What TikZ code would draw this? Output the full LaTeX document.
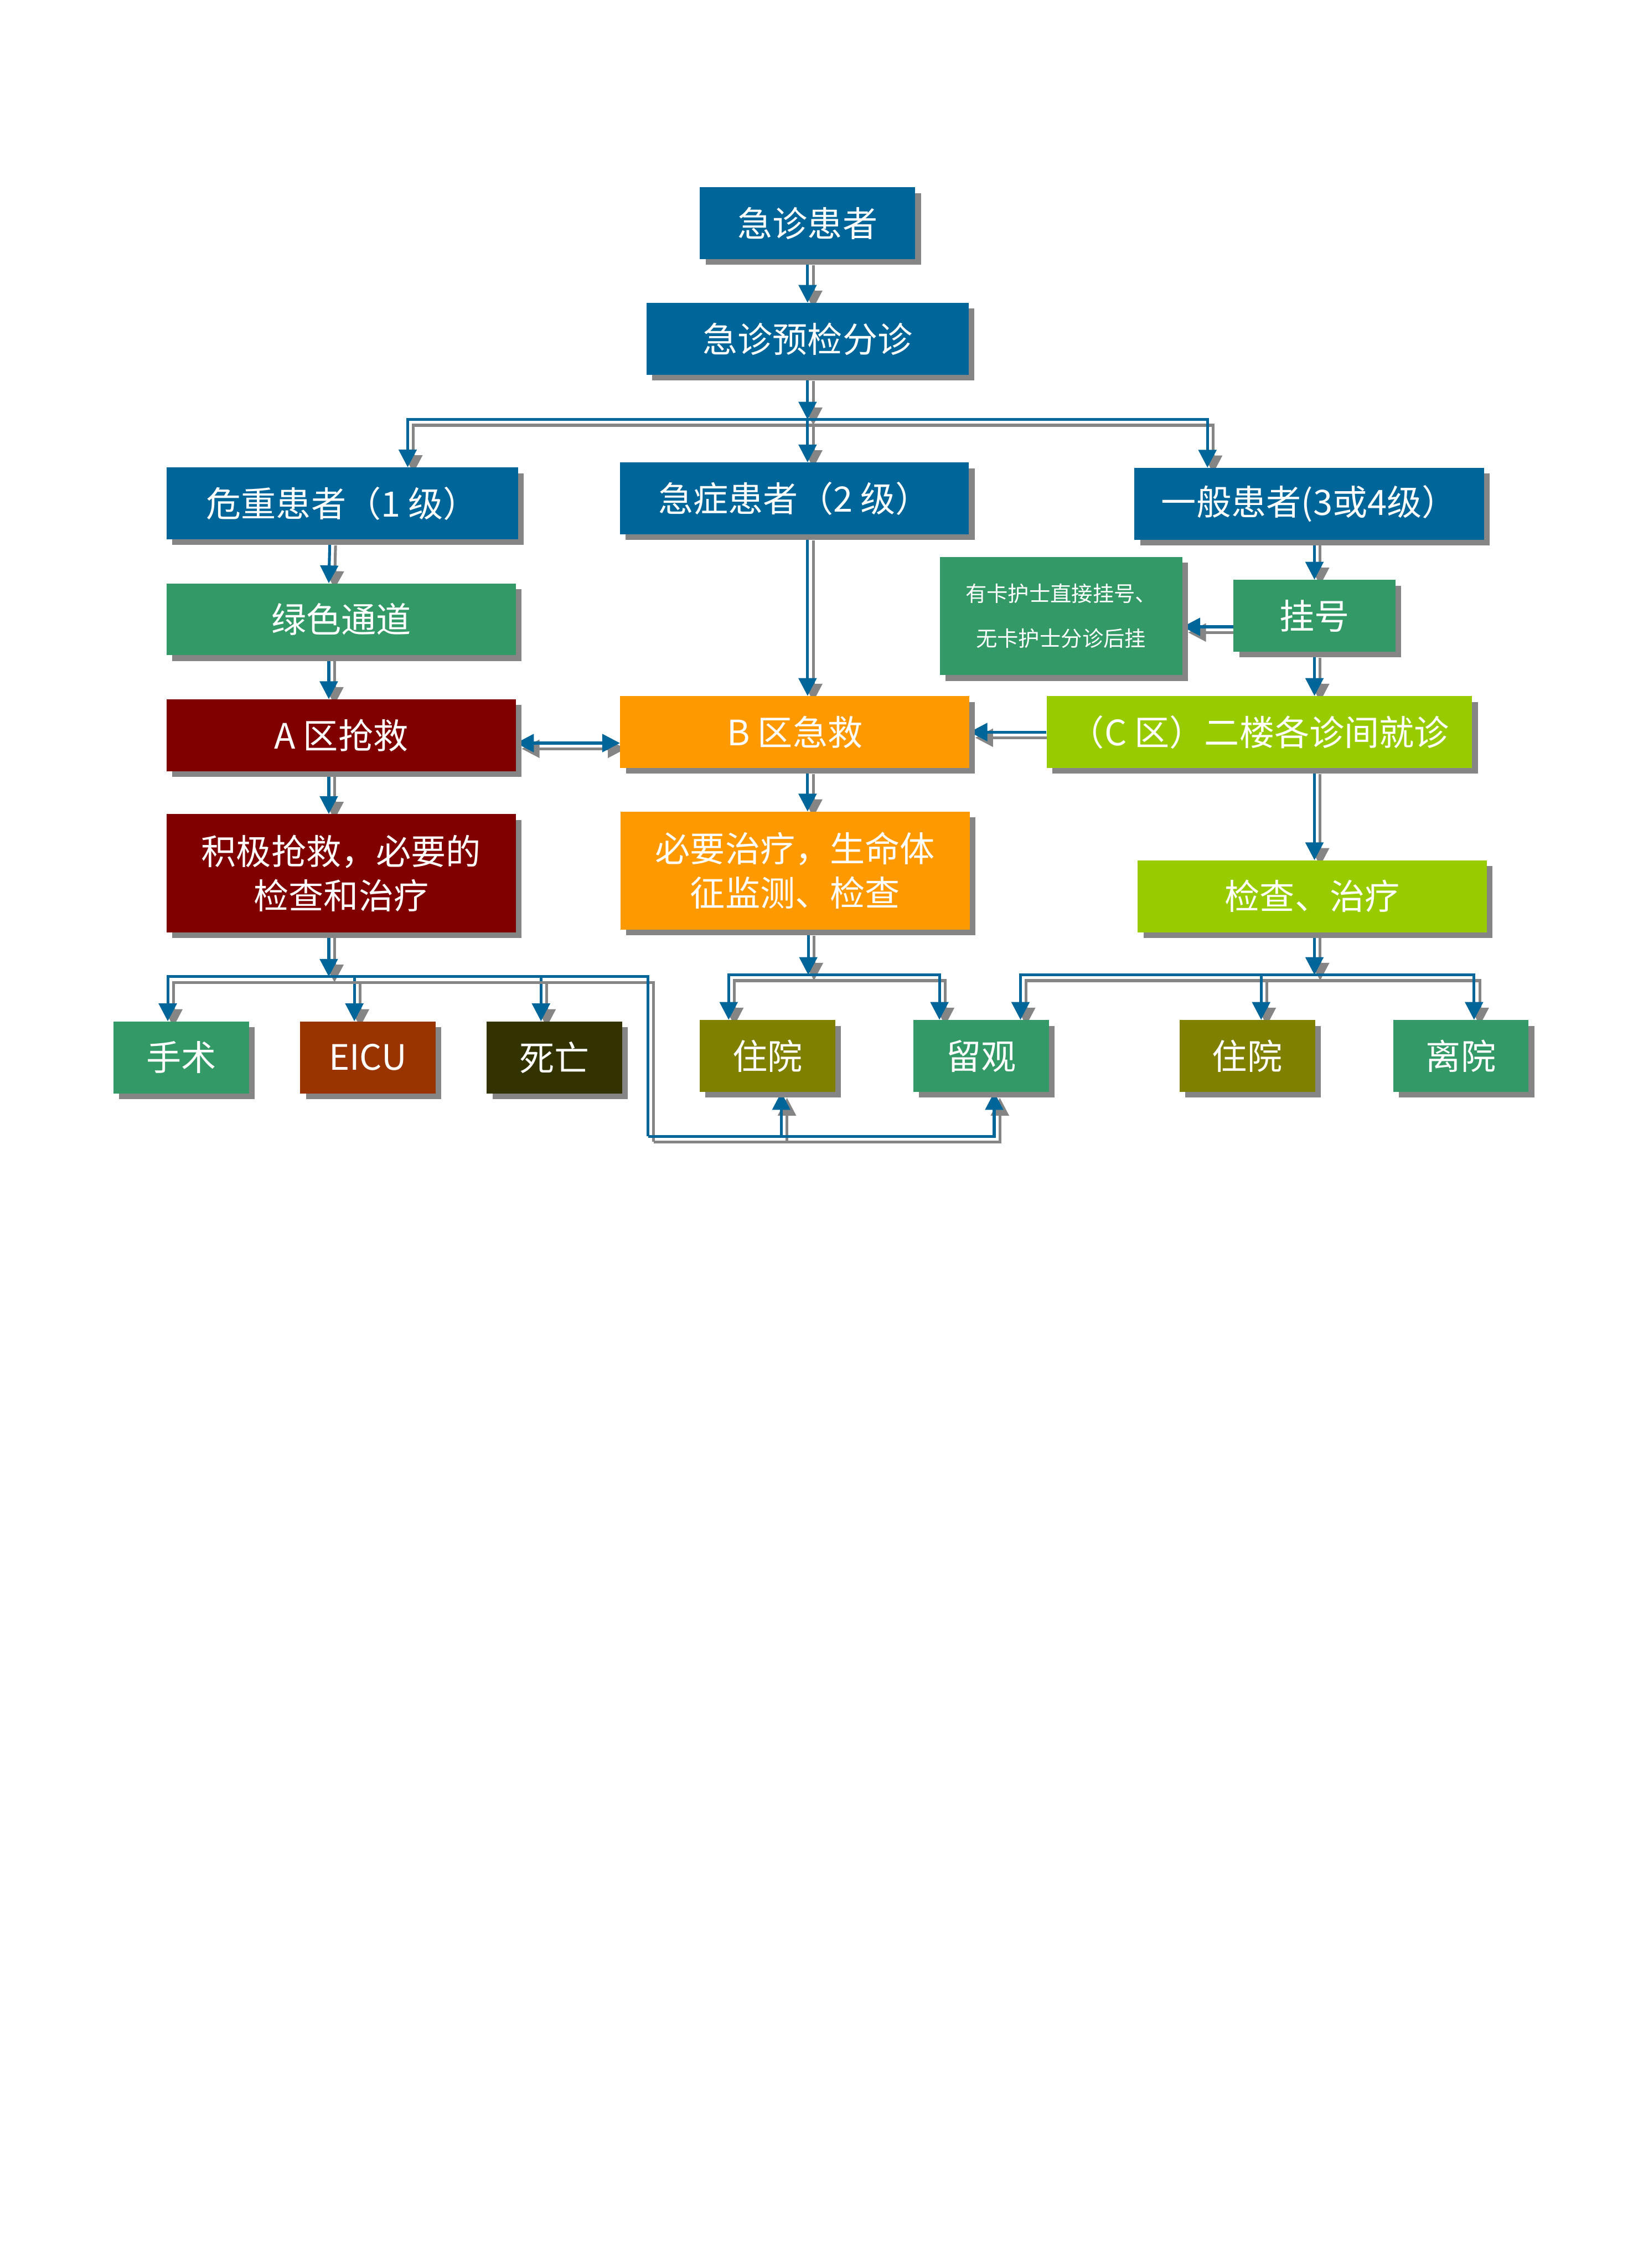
\documentclass[tikz,border=0pt]{standalone}
\usepackage{fontspec}
\usepackage{tikz}
\usetikzlibrary{arrows.meta,shadows}
\newfontfamily\cjk{Noto Sans CJK SC}
\definecolor{triblue}{RGB}{0,102,153}
\definecolor{chanGreen}{RGB}{51,153,102}
\definecolor{zoneRed}{RGB}{128,0,0}
\definecolor{zoneOrange}{RGB}{255,153,0}
\definecolor{zoneLime}{RGB}{153,204,0}
\definecolor{icuBrown}{RGB}{153,51,0}
\definecolor{deathDark}{RGB}{51,51,0}
\definecolor{hospOlive}{RGB}{128,128,0}
\definecolor{shade}{RGB}{133,133,133}
\pgfdeclarelayer{bg}
\pgfsetlayers{bg,main}

\begin{document}
\begin{tikzpicture}[
  box/.style={rectangle, inner sep=0pt, text=white, align=center, minimum height=2.02cm,
    font=\cjk\fontsize{28}{35.5}\selectfont,
    drop shadow={shadow xshift=1.6mm, shadow yshift=-1.6mm, opacity=1, fill=shade}},
  wide/.style={box, minimum width=9.82cm},
  tall/.style={wide, minimum height=3.32cm},
  leaf/.style={box, minimum width=3.81cm},
  wire/.style={draw=triblue, line width=0.8mm,
    preaction={draw=shade, line width=0.8mm, transform canvas={shift={(1.6mm,-1.6mm)}}}},
  conn/.style={wire, -{Triangle[length=5mm,width=5mm]}},
  conn2/.style={wire, {Triangle[length=5mm,width=5mm]}-{Triangle[length=5mm,width=5mm]}},
]
\useasboundingbox (0,0) rectangle (46.07,-63.79);

% Triage
\node[box, fill=triblue, minimum width=6.06cm] (top) at (22.72,-6.28) {急诊患者};
\node[box, fill=triblue, minimum width=9.06cm] (triage) at (22.72,-9.53) {急诊预检分诊};

% Levels
\node[box, fill=triblue, minimum width=9.88cm] (crit) at (9.63,-14.16) {危重患者（1 级）};
\node[box, fill=triblue, minimum width=9.82cm] (acute) at (22.35,-14.02) {急症患者（2 级）};
\node[box, fill=triblue, minimum width=9.83cm] (general) at (36.83,-14.17) {一般患者(3或4级）};

% Left column: zone A
\node[wide, fill=chanGreen] (green) at (9.60,-17.42) {绿色通道};
\node[wide, fill=zoneRed] (regA) at (9.60,-20.68) {A 区抢救};
\node[tall, fill=zoneRed] (rescue) at (9.60,-24.56) {积极抢救，必要的\\检查和治疗};

% Middle column: zone B
\node[wide, fill=zoneOrange] (regB) at (22.36,-20.59) {B 区急救};
\node[tall, fill=zoneOrange] (care) at (22.37,-24.49) {必要治疗，生命体\\征监测、检查};

% Right column: zone C
\node[box, fill=chanGreen, minimum width=6.82cm, minimum height=3.32cm,
  font=\cjk\fontsize{17}{36}\selectfont] (card) at (29.85,-17.33) {有卡护士直接挂号、\\无卡护士分诊后挂};
\node[box, fill=chanGreen, minimum width=4.55cm] (reg) at (36.98,-17.32) {挂号};
\node[box, fill=zoneLime, minimum width=11.97cm] (regC) at (35.43,-20.59) {（C 区）二楼各诊间就诊};
\node[wide, fill=zoneLime] (exam) at (36.92,-25.21) {检查、治疗};

% Outcomes
\node[leaf, fill=chanGreen] (surg) at (5.10,-29.74) {手术};
\node[leaf, fill=icuBrown] (eicu) at (10.35,-29.74) {EICU};
\node[leaf, fill=deathDark] (death) at (15.60,-29.74) {死亡};
\node[leaf, fill=hospOlive] (hosp1) at (21.59,-29.70) {住院};
\node[leaf, fill=chanGreen] (obs) at (27.60,-29.70) {留观};
\node[leaf, fill=hospOlive] (hosp2) at (35.09,-29.70) {住院};
\node[leaf, fill=chanGreen] (leave) at (41.10,-29.70) {离院};

\coordinate (hubT) at (22.72,-11.80);
\coordinate (hubL) at (9.25,-27.47);
\coordinate (hubB) at (22.74,-27.42);
\coordinate (hubR) at (36.98,-27.42);
\coordinate (turnL) at (18.23,-31.96);

\begin{pgfonlayer}{bg}
% Triage split
\draw[conn] (top) -- (triage);
\draw[conn] (triage.south) -- (hubT);
\draw[conn] (hubT) -| ([xshift=1.84cm]crit.north);
\draw[conn] (hubT) -- (hubT |- acute.north);
\draw[conn] (hubT) -| ([xshift=-2.86cm]general.north);

% Zone A
\draw[conn] ([xshift=-3.5mm]crit.south) -- ([xshift=-3.5mm]green.north);
\draw[conn] ([xshift=-3.5mm]green.south) -- ([xshift=-3.5mm]regA.north);
\draw[conn] ([xshift=-3.5mm]regA.south) -- ([xshift=-3.5mm]rescue.north);
\draw[conn2] ([yshift=-2.2mm]regA.east) -- ([yshift=-2.2mm]regA.east -| regB.west);

% Zone B
\draw[conn] (hubT |- acute.south) -- (hubT |- regB.north);
\draw[conn] (hubT |- regB.south) -- (hubT |- care.north);

% Zone C
\draw[conn] (general.south -| reg.north) -- (reg.north);
\draw[conn] ([yshift=-3.1mm]reg.west) -- ([yshift=-3.1mm]reg.west -| card.east);
\draw[conn] (reg.south) -- (reg.south |- regC.north);
\draw[conn] (regC.west) -- (regC.west -| regB.east);
\draw[conn] (reg.south |- regC.south) -- (reg.south |- exam.north);

% Outcomes of zone A
\draw[conn] (hubL |- rescue.south) -- (hubL);
\draw[conn] (hubL) -| ([xshift=-3.8mm]surg.north);
\draw[conn] (hubL) -| ([xshift=-3.8mm]eicu.north);
\draw[conn] (hubL) -| ([xshift=-3.8mm]death.north);
\draw[wire] (hubL) -| (turnL);
\draw[conn] (turnL) -| ([xshift=3.9mm]hosp1.south);
\draw[conn] (turnL) -| ([xshift=3.7mm]obs.south);

% Outcomes of zone B
\draw[conn] (hubB |- care.south) -- (hubB);
\draw[conn] (hubB) -| ([xshift=-1.09cm]hosp1.north);
\draw[conn] (hubB) -| ([xshift=-1.17cm]obs.north);

% Outcomes of zone C
\draw[conn] (hubR |- exam.south) -- (hubR);
\draw[conn] (hubR) -| ([xshift=1.11cm]obs.north);
\draw[conn] (hubR) -| ([xshift=0.39cm]hosp2.north);
\draw[conn] (hubR) -| ([xshift=0.37cm]leave.north);
\end{pgfonlayer}

\end{tikzpicture}
\end{document}
